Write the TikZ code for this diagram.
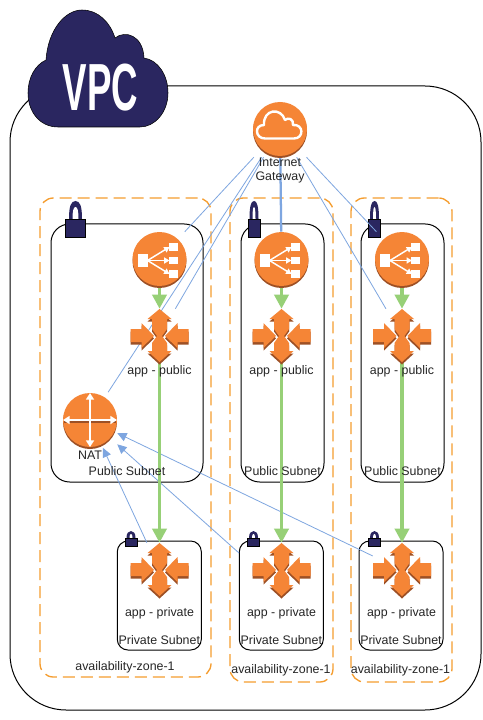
\documentclass[tikz,border=0pt]{standalone}
\usepackage{fontspec}
\setmainfont{Liberation Sans}
\usetikzlibrary{arrows.meta}
\definecolor{awsorange}{HTML}{F58536}
\definecolor{awsbrown}{HTML}{9D5025}
\definecolor{navy}{HTML}{2A2660}
\definecolor{zoneorange}{HTML}{F59D2F}
\definecolor{linkblue}{HTML}{7EA6E0}
\definecolor{linkgreen}{HTML}{97D077}
\tikzset{
  x=0.75pt,y=-0.75pt,
  box/.style 2 args={rectangle,minimum width=#1*0.75pt,minimum height=#2*0.75pt,inner sep=0pt},
  zonebox/.style 2 args={box={#1}{#2},draw=zoneorange,line width=1pt,dash pattern=on 9pt off 4.5pt,rounded corners=10pt},
  pubbox/.style 2 args={box={#1}{#2},draw=black,line width=0.75pt,rounded corners=14pt},
  privbox/.style 2 args={box={#1}{#2},draw=black,line width=0.75pt,rounded corners=8pt},
  lbl/.style={font=\fontsize{9.3}{10.5}\selectfont,text=black!85,inner sep=0pt,align=center},
  bluelink/.style={draw=linkblue,line width=0.6pt},
  bluethick/.style={draw=linkblue,line width=1.7pt},
  bluearrow/.style={bluelink,-{Triangle[length=7pt,width=6.5pt]}},
  greenlink/.style={draw=linkgreen,line width=2.8pt,-{Triangle[length=10.5pt,width=10.5pt]}},
  elb/.pic={
    \fill[awsbrown] (0,2) circle[radius=27*0.75pt];
    \fill[awsorange] (0,0) circle[radius=27*0.75pt];
    \fill[white] (-22,-5) rectangle (-12,8);
    \fill[white] (9,-16) rectangle (18,-8);
    \fill[white] (9,-2) rectangle (18,5);
    \fill[white] (9,11) rectangle (18,19);
    \draw[white,line width=1.1pt,-{Triangle[length=4pt,width=4.5pt]}] (-12,1.5) -- (10,-12);
    \draw[white,line width=1.1pt,-{Triangle[length=4pt,width=4.5pt]}] (-12,1.5) -- (10,1.5);
    \draw[white,line width=1.1pt,-{Triangle[length=4pt,width=4.5pt]}] (-12,1.5) -- (10,15);
  },
  routerstar/.pic={
    \foreach \dy/\col in {2.5/awsbrown,0/awsorange}{
      \begin{scope}[yshift=-\dy*0.75pt]
      \fill[\col] (0,-27) -- (12,-17) -- (7.5,-17) -- (7.5,-7) -- (2.5,0) -- (7.5,7) -- (7.5,15) -- (12,15) -- (0,26)
        -- (-12,15) -- (-7.5,15) -- (-7.5,7) -- (-2.5,0) -- (-7.5,-7) -- (-7.5,-17) -- (-12,-17) -- cycle;
      \fill[\col] (-29,-7) -- (-18,-7) -- (-18,-13) -- (-5.5,0) -- (-18,12) -- (-18,6) -- (-29,6) -- cycle;
      \fill[\col] (29,-7) -- (18,-7) -- (18,-13) -- (5.5,0) -- (18,12) -- (18,6) -- (29,6) -- cycle;
      \end{scope}
    }
  },
  natdisc/.pic={
    \fill[awsbrown] (0,2) circle[radius=27*0.75pt];
    \fill[awsorange] (0,0) circle[radius=27*0.75pt];
    \draw[awsbrown,line width=0.8pt] (-26,2) -- (26,2);
    \draw[white,line width=1.6pt,{Triangle[length=5pt,width=6pt]}-{Triangle[length=5pt,width=6pt]}] (0,-27) -- (0,27);
    \draw[white,line width=1.6pt,{Triangle[length=5pt,width=6pt]}-{Triangle[length=5pt,width=6pt]}] (-27,0) -- (27,0);
  },
  gatewaydisc/.pic={
    \fill[awsbrown] (0,2) circle[radius=27*0.75pt];
    \fill[awsorange] (0,0) circle[radius=27*0.75pt];
    \draw[white,line width=1.8pt,line join=round] (-15,9.5) .. controls (-25,9.5) and (-26,-4) .. (-16,-4)
      .. controls (-17,-20) and (1,-22) .. (5,-9)
      .. controls (8,-12) and (14,-10) .. (13,-4)
      .. controls (24,-5) and (24,9.5) .. (14,9.5) -- cycle;
  },
  padlock/.pic={
    \fill[navy] (-6.5,0) .. controls (-6.5,-13) and (-4.5,-18) .. (0,-18)
      .. controls (4.5,-18) and (6.5,-13) .. (6.5,0) -- cycle;
    \fill[white] (-3,0) .. controls (-3,-8) and (-2,-12) .. (0,-12)
      .. controls (2,-12) and (3,-8) .. (3,0) -- cycle;
    \fill[navy,draw=black,line width=0.4pt] (-10,0) rectangle (10,18);
  },
  thinlock/.pic={
    \fill[navy] (-4.5,0) .. controls (-4.5,-13) and (-3,-18) .. (0,-18)
      .. controls (3,-18) and (4.5,-13) .. (4.5,0) -- cycle;
    \fill[white] (-1.5,0) .. controls (-1.5,-8) and (-1,-12) .. (0,-12)
      .. controls (1,-12) and (1.5,-8) .. (1.5,0) -- cycle;
    \fill[navy,draw=black,line width=0.4pt] (-6,0) rectangle (6,18);
  },
  smalllock/.pic={
    \fill[navy] (-4.5,0) .. controls (-4.5,-5) and (-2.5,-7) .. (0,-7)
      .. controls (2.5,-7) and (4.5,-5) .. (4.5,0) -- cycle;
    \fill[white] (-1.5,0) .. controls (-1.5,-3) and (-1,-4) .. (0,-4)
      .. controls (1,-4) and (1.5,-3) .. (1.5,0) -- cycle;
    \fill[navy,draw=black,line width=0.4pt] (-6,0) rectangle (6,8);
  },
}
\begin{document}
\begin{tikzpicture}
\useasboundingbox (0,0) rectangle (482,720);
\fill[white] (0,0) rectangle (482,720);
% containers
\node[box={471}{624},draw=black,line width=0.75pt,rounded corners=42pt] (vpcframe) at (245.5,398) {};
\node[zonebox={171}{479}] (zoneA) at (125.5,437.5) {};
\node[zonebox={103}{484}] (zoneB) at (281.5,440) {};
\node[zonebox={101}{484}] (zoneC) at (401.5,440) {};
\node[pubbox={152}{258}] (pubA) at (127,353) {};
\node[pubbox={83}{258}] (pubB) at (282.5,353) {};
\node[pubbox={83}{258}] (pubC) at (402.5,353) {};
\node[privbox={84}{109}] (privA) at (159.3,595.5) {};
\node[privbox={84}{109}] (privB) at (281.3,595.5) {};
\node[privbox={84}{109}] (privC) at (401,595.5) {};
% locks
\pic at (75.5,219) {padlock};
\pic at (254,219) {thinlock};
\pic at (374.5,219) {thinlock};
\pic at (131,538) {smalllock};
\pic at (253.5,538) {smalllock};
\pic at (374.5,538) {smalllock};
% anchor boxes of the icons
\node[box={54}{56}] (igw) at (280,129) {};
\node[box={54}{54}] (elbA) at (159.5,259) {};
\node[box={54}{54}] (elbB) at (281.5,259) {};
\node[box={54}{54}] (elbC) at (402,259) {};
\node[box={58}{54}] (appA) at (159.5,336) {};
\node[box={58}{54}] (appB) at (281.5,336) {};
\node[box={58}{54}] (appC) at (402,336) {};
\node[box={58}{54}] (dbA) at (159.5,570) {};
\node[box={58}{54}] (dbB) at (281.5,570) {};
\node[box={58}{54}] (dbC) at (402,570) {};
\node[box={54}{55}] (nat) at (90,420) {};
\coordinate (linkB) at (239,553);
% connectors
\draw[bluelink] (igw) -- (elbA);
\draw[bluelink] (igw) -- (nat);
\draw[bluelink] (igw) -- (appA);
\draw[bluethick] (igw) -- (elbB);
\draw[bluelink] (igw) -- (appC);
\draw[bluelink] (igw) -- (elbC);
\draw[bluearrow] (dbA) -- (nat);
\draw[bluearrow] (linkB) -- (nat);
\draw[bluearrow] (dbC) -- (nat);
\draw[greenlink] (elbA) -- (appA);
\draw[greenlink] (elbB) -- (appB);
\draw[greenlink] (elbC) -- (appC);
\draw[greenlink] (appA) -- (dbA);
\draw[greenlink] (appB) -- (dbB);
\draw[greenlink] (appC) -- (dbC);
% icons
\pic at (igw) {gatewaydisc};
\pic at (elbA) {elb};
\pic at (elbB) {elb};
\pic at (elbC) {elb};
\pic at (appA) {routerstar};
\pic at (appB) {routerstar};
\pic at (appC) {routerstar};
\pic at (dbA) {routerstar};
\pic at (dbB) {routerstar};
\pic at (dbC) {routerstar};
\pic at (nat) {natdisc};
% VPC cloud
\fill[navy,draw=black,line width=0.4pt] (58,127) .. controls (40,127) and (28,112) .. (28,93)
  .. controls (28,78) and (35,65) .. (46,60)
  .. controls (48,30) and (65,10) .. (82,10)
  .. controls (98,10) and (110,22) .. (115,38)
  .. controls (125,30) and (143,35) .. (144,58)
  .. controls (158,60) and (168,75) .. (168,93)
  .. controls (168,112) and (155,127) .. (140,127) -- cycle;
\node[inner sep=0pt,text=white,font=\fontsize{50}{50}\selectfont\bfseries] (vpclabel) at (100.5,87.5) {\scalebox{0.55}[1]{VPC}};
% labels
\node[lbl] (igwlabel) at (280,171) {Internet\\Gateway};
\node[lbl] (natlabel) at (90,455) {NAT};
\node[lbl] at (159.5,371) {app - public};
\node[lbl] at (281.5,371) {app - public};
\node[lbl] at (402,371) {app - public};
\node[lbl] at (127,471) {Public Subnet};
\node[lbl] at (282.5,471) {Public Subnet};
\node[lbl] at (402.5,471) {Public Subnet};
\node[lbl] at (159.5,613) {app - private};
\node[lbl] at (281.5,613) {app - private};
\node[lbl] at (401.5,613) {app - private};
\node[lbl] at (159.3,640) {Private Subnet};
\node[lbl] at (281.3,640) {Private Subnet};
\node[lbl] at (401,640) {Private Subnet};
\node[lbl] at (125,667) {availability-zone-1};
\node[lbl] at (281,670) {availability-zone-1};
\node[lbl] at (400.5,670) {availability-zone-1};
\end{tikzpicture}
\end{document}
